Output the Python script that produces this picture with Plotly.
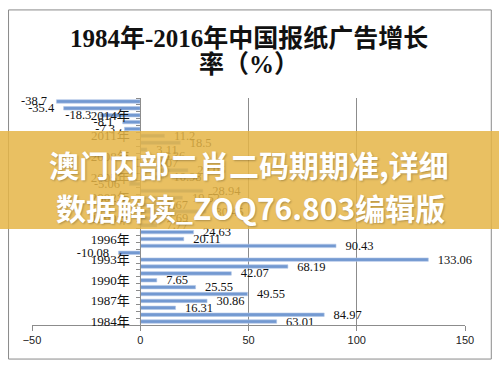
import plotly.graph_objects as go

years = list(range(1984, 2017))
growth = [63.01, 84.97, 16.31, 30.86, 49.55, 25.55, 7.65, 42.07, 68.19, 133.06,
          -10.08, 90.43, 20.11, 24.63, 7.77, 7.69, 30.45, 7.67, 19.52, 28.94,
          -5.06, 10.98, 22.05, 3.07, 6.36, 3.11, 18.5, 11.2, -7.3, -8.1,
          -18.3, -35.4, -38.7]
label_years = list(range(1984, 2017, 3))
label_text = [f"{y}年" for y in label_years]
x_ticks = [-50, 0, 50, 100, 150]

title_l1 = "1984年-2016年中国报纸广告增长"
title_l2 = "率（%）"
banner_l1 = "澳门内部二肖二码期期准,详细"
banner_l2 = "数据解读_ZOQ76.803编辑版"

NB = "\u00a0"
texts = [(NB * 3 + str(v)) if v >= 0 else (str(v) + NB * 3) for v in growth]

serif = "Liberation Serif, Noto Sans CJK SC, serif"
grid = "#8c8c8c"

fig = go.Figure(go.Bar(
    x=growth, y=years, orientation="h",
    width=0.5,
    marker=dict(color="#7399d1", line=dict(color="#b3c8e8", width=0.6)),
    text=texts, textposition="outside", cliponaxis=False, constraintext="none",
    textfont=dict(family=serif, size=12.5, color="#111111"),
    hoverinfo="skip",
))

fig.update_layout(
    template="none",
    width=499, height=366,
    margin=dict(l=31.5, r=34.3, t=98, b=41, pad=0),
    paper_bgcolor="white", plot_bgcolor="white",
    showlegend=False,
    xaxis=dict(range=[-50, 150], tickvals=x_ticks, showgrid=True, gridcolor=grid,
               gridwidth=1, zeroline=True, zerolinecolor=grid, zerolinewidth=1,
               showline=True, linecolor=grid, linewidth=1, ticks="outside", ticklen=5,
               tickcolor=grid, automargin=False,
               tickfont=dict(family="Liberation Sans, sans-serif", size=11, color="#222222"),
               fixedrange=True),
    yaxis=dict(range=[1983.5, 2016.5], tickvals=label_years, ticktext=label_text,
               anchor="free", position=0.25, showgrid=False, zeroline=False,
               showline=True, linecolor=grid, linewidth=1, ticks="", ticklabelstandoff=8,
               automargin=False,
               minor=dict(tick0=1983.5, dtick=1, ticks="outside", ticklen=4,
                          tickcolor=grid, showgrid=False),
               tickfont=dict(family=serif, size=13, color="#111111"),
               fixedrange=True),
)

# chart border
fig.add_shape(type="rect", xref="paper", yref="paper",
              x0=-0.0542, x1=1.0607, y0=-0.150, y1=1.388,
              line=dict(color="#8a8a8a", width=1), fillcolor="rgba(0,0,0,0)")

# title
for txt, yy in [(title_l1, 1.262), (title_l2, 1.147)]:
    fig.add_annotation(xref="paper", yref="paper", x=0.501, y=yy, text=f"<b>{txt}</b>",
                       xanchor="center", yanchor="middle", showarrow=False,
                       font=dict(family=serif, size=25, color="#111111"))

# overlay banner
fig.add_shape(type="rect", xref="paper", yref="paper", layer="above",
              x0=-0.08, x1=1.09, y0=0.423, y1=0.855,
              line=dict(width=0), fillcolor="rgba(229,181,70,0.85)")
for txt, xx, yy in [(banner_l1, 0.501, 0.708), (banner_l2, 0.505, 0.522)]:
    fig.add_annotation(xref="paper", yref="paper", x=xx, y=yy, text=f"<b>{txt}</b>",
                       xanchor="center", yanchor="middle", showarrow=False,
                       font=dict(family="Noto Sans CJK SC, sans-serif", size=30, color="white",
                                 shadow="1px 1px 2px rgba(0,0,0,0.25)"))

fig.write_html("out.html", config={"displayModeBar": False},
               post_script="document.body.style.margin='0';document.body.style.overflow='hidden';")
